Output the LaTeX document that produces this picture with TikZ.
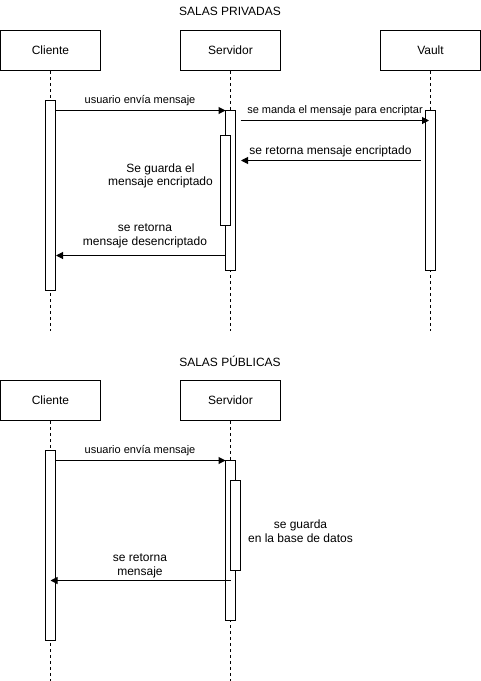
\documentclass[tikz,border=0pt]{standalone}
\usepackage{fontspec}
\setmainfont{Liberation Sans}
\usetikzlibrary{arrows.meta}
\begin{document}
\begin{tikzpicture}[x=1pt,y=-1pt,line width=1pt,
  actor/.style={draw, rectangle, minimum width=100pt, minimum height=40pt, inner sep=0pt, font=\fontsize{12}{14}\selectfont},
  bar/.style={draw, fill=white, rectangle, minimum width=10pt, inner sep=0pt},
  life/.style={dash pattern=on 3pt off 3pt},
  msg/.style={-{Triangle[length=7pt,width=7pt]}},
  lbl/.style={font=\fontsize{12}{13.7}\selectfont, align=center, inner sep=0pt},
  slbl/.style={font=\fontsize{11}{13}\selectfont, inner sep=0pt}]
\useasboundingbox (0,0) rectangle (481,681);

% salas privadas
\node[lbl] (tit0) at (230,11){SALAS PRIVADAS};
\node[actor] (cli0) at (50.5,50.5){Cliente};
\node[actor] (srv0) at (230.5,50.5){Servidor};
\node[actor] (vlt0) at (430.5,50.5){Vault};
\coordinate (cli0e) at (50.5,331);
\coordinate (srv0e) at (230.5,331);
\coordinate (vlt0e) at (430.5,331);
\draw[life](cli0) -- (cli0e);
\draw[life](srv0) -- (srv0e);
\draw[life](vlt0) -- (vlt0e);
\node[bar, minimum height=190pt] (cact0) at (50.5,195.5){};
\node[bar, minimum height=160pt] (sact0) at (230.5,190.5){};
\node[bar, minimum height=90pt] (sact1) at (225.5,180.5){};
\node[bar, minimum height=160pt] (vact0) at (430.5,190.5){};
\coordinate (m0a) at (55.5,110.5);
\coordinate (m0b) at (225.5,110.5);
\coordinate (m1a) at (240.5,120.5);
\coordinate (m1b) at (429,120.5);
\coordinate (m2a) at (420.5,160.5);
\coordinate (m2b) at (241,160.5);
\coordinate (m3a) at (225.5,255.5);
\coordinate (m3b) at (56,255.5);
\draw[msg](m0a) -- (m0b);
\draw[msg](m1a) -- (m1b);
\draw[msg](m2a) -- (m2b);
\draw[msg](m3a) -- (m3b);
\node[slbl] (t0) at (140,101){usuario envía mensaje};
\node[slbl] (t1) at (335,111){se manda el mensaje para encriptar};
\node[lbl] (t2) at (330.5,151){se retorna mensaje encriptado};
\node[lbl] (t3) at (160.5,176){Se guarda el\\mensaje encriptado};
\node[lbl] (t4) at (145,236){se retorna\\mensaje desencriptado};

% salas publicas
\node[lbl] (tit1) at (230,361){SALAS PÚBLICAS};
\node[actor] (cli1) at (50.5,400.5){Cliente};
\node[actor] (srv1) at (230.5,400.5){Servidor};
\coordinate (cli1e) at (50.5,681);
\coordinate (srv1e) at (230.5,681);
\draw[life](cli1) -- (cli1e);
\draw[life](srv1) -- (srv1e);
\node[bar, minimum height=190pt] (cact1) at (50.5,545.5){};
\node[bar, minimum height=160pt] (sact2) at (230.5,540.5){};
\node[bar, minimum height=90pt] (sact3) at (235.5,525.5){};
\coordinate (m4a) at (55.5,460.5);
\coordinate (m4b) at (225.5,460.5);
\coordinate (m5a) at (230.5,580.5);
\coordinate (m5b) at (50.5,580.5);
\draw[msg](m4a) -- (m4b);
\draw[msg](m5a) -- (m5b);
\node[slbl] (t5) at (140,451){usuario envía mensaje};
\node[lbl] (t6) at (300.5,531){se guarda\\en la base de datos};
\node[lbl] (t7) at (140,566){se retorna\\mensaje};

\end{tikzpicture}
\end{document}
